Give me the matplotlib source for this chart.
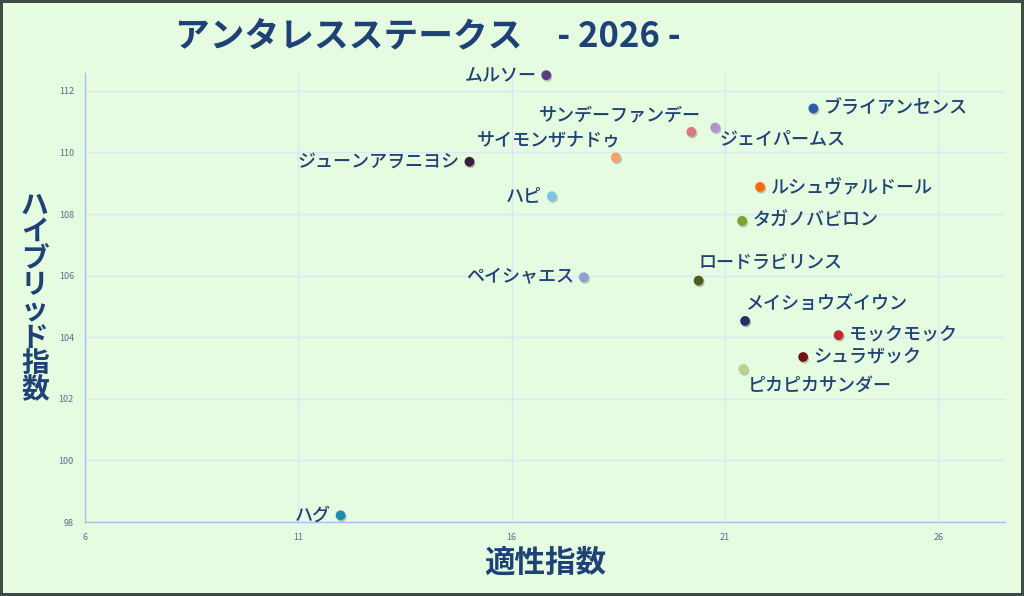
import matplotlib
matplotlib.use("Agg")
import matplotlib.pyplot as plt
import matplotlib.patheffects as pe

plt.rcParams["font.family"] = ["Noto Sans CJK JP", "DejaVu Sans"]

# ─── data ─────────────────────────────────────────────────────────────────────
horses = ["ムルソー", "ブライアンセンス", "サンデーファンデー", "ジェイパームス",
          "サイモンザナドゥ", "ジューンアヲニヨシ", "ハピ", "ルシュヴァルドール",
          "タガノバビロン", "ペイシャエス", "ロードラビリンス", "メイショウズイウン",
          "モックモック", "シュラザック", "ピカピカサンダー", "ハグ"]
aptitude = [16.81, 23.07, 20.21, 20.77, 18.44, 15.01, 16.94, 21.82,
            21.40, 17.69, 20.38, 21.47, 23.66, 22.83, 21.43, 11.99]
hybrid = [112.51, 111.43, 110.67, 110.81, 109.84, 109.70, 108.58, 108.88,
          107.78, 105.95, 105.84, 104.53, 104.07, 103.36, 102.97, 98.22]
colors = ["#5f3b82", "#2d5ea6", "#d9777f", "#b293c9", "#f5a26c", "#35203f",
          "#7cc6df", "#ff6a08", "#7aa332", "#8aa3d4", "#4b5e1c", "#1c3466",
          "#c2282c", "#6e1515", "#bcd291", "#1c8fae"]
# label placement: (dx px, dy px, ha)
placement = [(-10, 0, "right"), (10, 0, "left"), (10, 17, "right"), (4, -12, "left"),
             (5, 17, "right"), (-10, 0, "right"), (-10, 0, "right"), (10, 0, "left"),
             (10, 0, "left"), (-10, 0, "right"), (0, 17, "left"), (0, 17, "left"),
             (10, 0, "left"), (10, 0, "left"), (4, -17, "left"), (-10, 0, "right")]

x_ticks = [6, 11, 16, 21, 26]
y_ticks = [98, 100, 102, 104, 106, 108, 110, 112]

BG = "#e5fce1"
TXT = "#1f4276"

fig = plt.figure(figsize=(10.24, 5.96), dpi=100, facecolor=BG)
fig.patch.set_edgecolor("#3f4a44")
fig.patch.set_linewidth(3)
ax = fig.add_axes([0.083, 0.124, 0.898, 0.7535])
ax.set_facecolor(BG)

ax.set_xlim(6, 27.55)
ax.set_ylim(98, 112.58)
ax.set_xticks(x_ticks)
ax.set_yticks(y_ticks)
ax.grid(True, color="#dbe7f6", linewidth=1)
ax.set_axisbelow(True)
for s in ["top", "right"]:
    ax.spines[s].set_visible(False)
for s in ["left", "bottom"]:
    ax.spines[s].set_color("#a9c0f2")
    ax.spines[s].set_linewidth(1)
ax.tick_params(length=0, labelsize=6.5, labelcolor="#5a6e8c", pad=8)

shadow = [pe.SimplePatchShadow(offset=(0.8, -1.2), shadow_rgbFace="#8a8a8a", alpha=0.5), pe.Normal()]
for i, name in enumerate(horses):
    ax.scatter(aptitude[i], hybrid[i], s=50, color=colors[i], zorder=3,
               linewidths=0, path_effects=shadow, clip_on=False)
    dx, dy, ha = placement[i]
    ax.annotate(name, (aptitude[i], hybrid[i]), xytext=(dx, dy),
                textcoords="offset pixels", ha=ha, va="center",
                fontsize=13, color=TXT, fontweight="medium", zorder=4)

fig.text(0.171, 0.94, "アンタレスステークス　- 2026 -", fontsize=25,
         fontweight="bold", color=TXT, ha="left", va="center")
fig.text(0.532, 0.055, "適性指数", fontsize=22, fontweight="bold",
         color=TXT, ha="center", va="center")
fig.text(0.034, 0.5, "\n".join("ハイブリッド指数"), fontsize=20,
         fontweight="bold", color=TXT, ha="center", va="center",
         linespacing=0.93)

fig.savefig("out.png", dpi=100, facecolor=BG, edgecolor=fig.patch.get_edgecolor())
